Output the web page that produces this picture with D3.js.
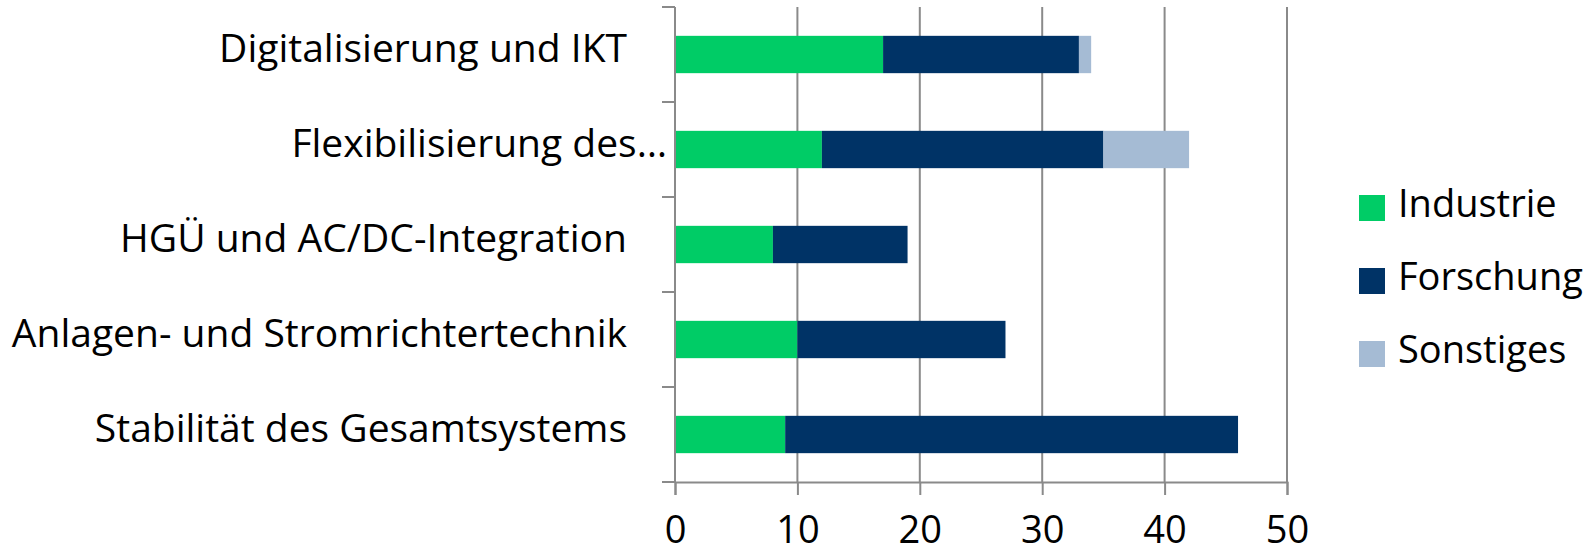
<!DOCTYPE html>
<html>
<head>
<meta charset="utf-8">
<script src="https://cdn.jsdelivr.net/npm/d3@7"></script>
<style>
  body { margin: 0; background: #fff; }
  text { font-family: "Open Sans", sans-serif; fill: #000; }
</style>
</head>
<body>
<div id="chart"></div>
<script>
const categories = [
  "Digitalisierung und IKT",
  "Flexibilisierung des…",
  "HGÜ und AC/DC-Integration",
  "Anlagen- und Stromrichtertechnik",
  "Stabilität des Gesamtsystems"
]
const seriesNames = ["Industrie", "Forschung", "Sonstiges"]
const industrie = [17, 12, 8, 10, 9]
const forschung = [16, 23, 11, 17, 37]
const sonstiges = [1, 7, 0, 0, 0]
const xTicks = [0, 10, 20, 30, 40, 50]

const colors = ["#00cc66", "#003366", "#a5bbd4"]
const w = 1596
const h = 554

function drawChart(){
  var svg = d3.select("#chart")
              .append("svg")
              .attr("width", w)
              .attr("height", h)

  var x = d3.scaleLinear().domain([0, 50]).range([675, 1287])
  var y = d3.scaleBand()
            .domain(categories)
            .range([7, 482])
            .paddingInner(0.607)
            .paddingOuter(0.3035)

  // gridlines
  svg.append("g")
     .selectAll("line")
     .data(xTicks.slice(1))
     .enter()
     .append("line")
     .attr("x1", d => x(d))
     .attr("x2", d => x(d))
     .attr("y1", 7)
     .attr("y2", 482)
     .attr("stroke", "#8a8a8a")
     .attr("stroke-width", 2)

  // stacked bars
  var rows = categories.map((c, i) => ({cat: c, Industrie: industrie[i], Forschung: forschung[i], Sonstiges: sonstiges[i]}))
  var stack = d3.stack().keys(seriesNames)(rows)

  svg.append("g")
     .selectAll("g")
     .data(stack)
     .enter()
     .append("g")
     .attr("fill", (d, i) => colors[i])
     .selectAll("rect")
     .data(d => d)
     .enter()
     .append("rect")
     .attr("x", d => x(d[0]))
     .attr("y", d => y(d.data.cat))
     .attr("width", d => x(d[1]) - x(d[0]))
     .attr("height", y.bandwidth())

  // value axis
  var xAxis = d3.axisBottom(x).tickValues(xTicks).tickSize(13).tickFormat(d3.format("d"))
  var gx = svg.append("g").attr("transform", "translate(0,482)").call(xAxis)
  gx.select(".domain").attr("stroke", "#8a8a8a").attr("stroke-width", 2)
  gx.selectAll(".tick line").attr("stroke", "#8a8a8a").attr("stroke-width", 2)
  gx.selectAll(".tick text")
    .attr("y", 0)
    .attr("dy", "1.6em")
    .attr("font-size", 38)
    .attr("font-family", "Open Sans")
    .attr("fill", "#000")

  // category axis line + ticks between bands
  var bounds = categories.map(c => y(c) - y.step() * y.paddingInner() / 2)
  bounds.push(482)
  svg.append("line")
     .attr("x1", 675).attr("x2", 675)
     .attr("y1", 7).attr("y2", 482)
     .attr("stroke", "#8a8a8a").attr("stroke-width", 2)
  svg.append("g")
     .selectAll("line")
     .data(bounds)
     .enter()
     .append("line")
     .attr("x1", 662).attr("x2", 675)
     .attr("y1", d => d).attr("y2", d => d)
     .attr("stroke", "#8a8a8a").attr("stroke-width", 2)

  svg.append("g")
     .selectAll("text")
     .data(categories)
     .enter()
     .append("text")
     .attr("x", d => d.endsWith("…") ? 667 : 627)
     .attr("y", d => y(d) + y.bandwidth() / 2)
     .attr("dy", "0.2em")
     .attr("text-anchor", "end")
     .attr("font-size", 39)
     .text(d => d)

  // legend
  var lg = svg.append("g")
              .selectAll("g")
              .data(seriesNames)
              .enter()
              .append("g")
              .attr("transform", (d, i) => "translate(1359," + (195 + i * 73) + ")")
  lg.append("rect")
    .attr("width", 26)
    .attr("height", 26)
    .attr("fill", (d, i) => colors[i])
  lg.append("text")
    .attr("x", 39)
    .attr("y", 13)
    .attr("dy", "0.24em")
    .attr("font-size", 38)
    .text(d => d)
}

drawChart()
</script>
</body>
</html>
